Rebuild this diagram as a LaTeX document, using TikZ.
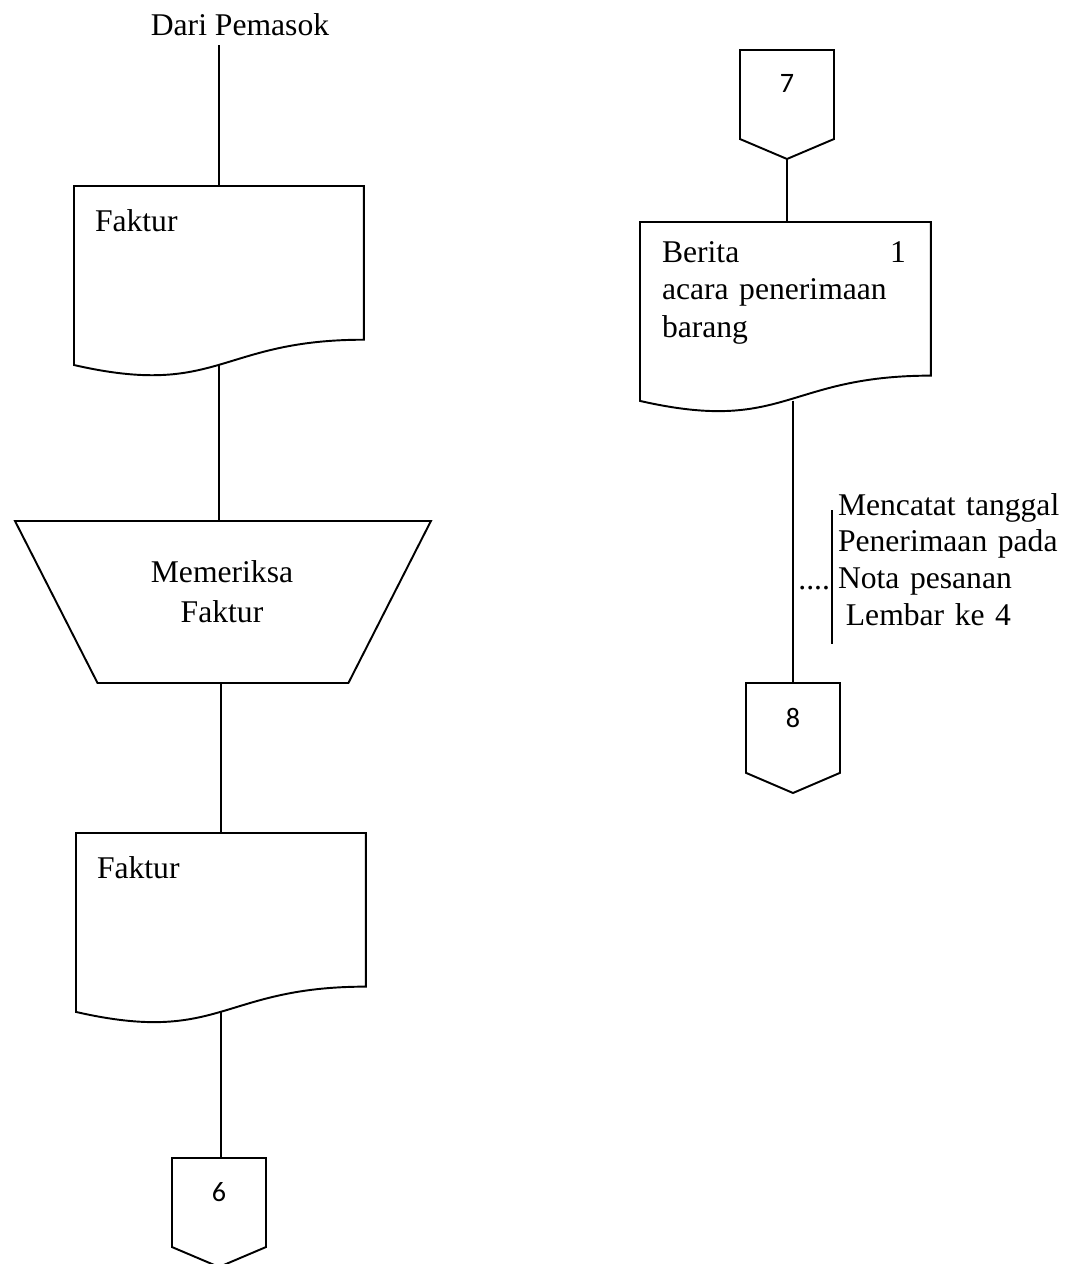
\documentclass[tikz,border=0pt]{standalone}
\usepackage{fontspec}
\setmainfont{Liberation Serif}
\newfontfamily\digitfont{Carlito}
\usetikzlibrary{calc}

\tikzset{
  outline/.style={draw=black, line width=1.1pt, line join=miter},
  flow/.style={draw=black, line width=0.6pt},
  box/.style={draw=none, inner sep=0pt, outer sep=0pt, anchor=north west},
  txt/.style={inner sep=0pt, outer sep=0pt, font=\fontsize{18}{21}\selectfont},
  doctext/.style={txt, anchor=base west, align=left},
  numtext/.style={inner sep=0pt, outer sep=0pt, anchor=base, font=\digitfont\fontsize{16}{19}\selectfont},
}

% document symbol with wavy lower edge; also defines <name>-out at the bottom centre
\newcommand\documentoutline[1]{%
  \draw[outline] (#1.north west) -- (#1.north east)
    -- ($(#1.north east)!0.802!(#1.south east)$)
    .. controls ($(#1.north)!0.802!(#1.south)$) and ($(#1.north)!1.1075!(#1.south)$)
    .. ($(#1.north west)!0.934!(#1.south west)$) -- cycle;
  \coordinate (#1-out) at ($(#1.north)!0.933!(#1.south)$);}

% off-page connector (pentagon pointing down)
\newcommand\offpageoutline[1]{%
  \draw[outline] (#1.north west) -- (#1.north east)
    -- ($(#1.north east)!0.817!(#1.south east)$) -- (#1.south)
    -- ($(#1.north west)!0.817!(#1.south west)$) -- cycle;}

% manual operation (inverted trapezoid)
\newcommand\manualopoutline[1]{%
  \draw[outline] (#1.north west) -- (#1.north east)
    -- ($(#1.south east)+(-82.5,0)$) -- ($(#1.south west)+(82.5,0)$) -- cycle;}

\begin{document}
\begin{tikzpicture}[x=0.02cm, y=-0.02cm]
  \useasboundingbox (0,0) rectangle (1070,1264);

  % ---------- left column ----------
  \node[txt, anchor=base] (src) at (240,36) {Dari Pemasok};

  \node[box, minimum width=5.8cm, minimum height=3.834cm] (doc1) at (74,186) {};
  \documentoutline{doc1}
  \node[doctext] (doc1t) at (95,231) {Faktur};

  \node[box, minimum width=8.32cm, minimum height=3.24cm] (chk) at (15,521) {};
  \manualopoutline{chk}
  \node[txt, anchor=base, align=center, text width=4cm, font=\fontsize{18}{22.8}\selectfont] (chkt) at (222,582) {Memeriksa\\Faktur};

  \node[box, minimum width=5.8cm, minimum height=3.832cm] (doc2) at (76,833) {};
  \documentoutline{doc2}
  \node[doctext] (doc2t) at (97,878) {Faktur};

  \node[box, minimum width=1.88cm, minimum height=2.18cm] (c6) at (172,1158) {};
  \offpageoutline{c6}
  \node[numtext] (c6t) at (219,1201) {6};

  \draw[flow, shorten <=0.18cm] (src.south -| doc1.north) -- (doc1.north);
  \draw[flow] (doc1-out) -- (doc1-out |- chk.north);
  \draw[flow] (chk.south -| doc2.north) -- (doc2.north);
  \draw[flow] (doc2-out) -- (doc2-out |- c6.north);

  % ---------- right column ----------
  \node[box, minimum width=1.88cm, minimum height=2.18cm] (c7) at (740,50) {};
  \offpageoutline{c7}
  \node[numtext] (c7t) at (787,92) {7};

  \node[box, minimum width=5.82cm, minimum height=3.832cm] (doc3) at (640,222) {};
  \documentoutline{doc3}
  \node[doctext, text width=4.88cm, font=\fontsize{18}{21.4}\selectfont] (doc3t) at (662,262) {Berita\hfill 1\\acara penerimaan\\barang};

  \node[box, minimum width=1.88cm, minimum height=2.2cm] (c8) at (746,683) {};
  \offpageoutline{c8}
  \node[numtext] (c8t) at (793,727) {8};

  \draw[flow] (c7.south) -- (c7.south |- doc3.north);
  \draw[flow] (c8.north |- doc3-out) -- (c8.north);

  % note beside the flow line
  \coordinate (notetop) at (832,510);
  \coordinate (notebot) at (832,644);
  \draw[flow] (notetop) -- (notebot);
  \node[txt, anchor=base east] (dots) at (830,589) {....};
  \node[doctext, text width=4.6cm] (note) at (838,515) {Mencatat tanggal\\Penerimaan pada\\Nota pesanan\\\hspace*{4.5pt}Lembar ke 4};
\end{tikzpicture}
\end{document}
